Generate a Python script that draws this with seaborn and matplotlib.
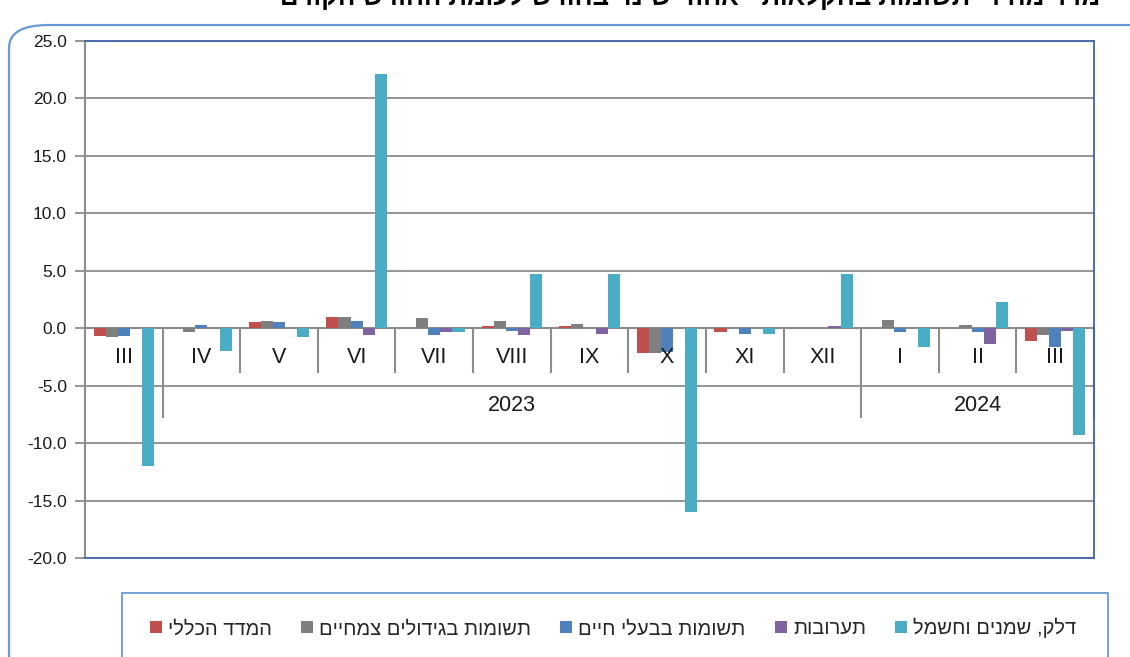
import matplotlib
matplotlib.use("Agg")
import matplotlib.pyplot as plt
import seaborn as sns
import pandas as pd
import numpy as np
from matplotlib.patches import FancyBboxPatch, Rectangle, Patch

# ---------------- data ----------------
months = ["III", "IV", "V", "VI", "VII", "VIII", "IX", "X", "XI", "XII", "I", "II", "III"]
years = ["2023", "2024"]
series_names = ["המדד הכללי", "תשומות בגידולים צמחיים", "תשומות בבעלי חיים", "תערובות", "דלק, שמנים וחשמל"]
general = [-0.7, 0.0, 0.5, 1.0, 0.0, 0.15, 0.15, -2.2, -0.3, 0.0, 0.0, 0.0, -1.1]
plants = [-0.8, -0.3, 0.6, 1.0, 0.9, 0.6, 0.4, -2.2, 0.0, 0.0, 0.7, 0.3, -0.6]
animals = [-0.7, 0.3, 0.5, 0.6, -0.6, -0.2, 0.0, -2.1, -0.5, 0.0, -0.3, -0.3, -1.6]
feed = [0.0, 0.0, 0.0, -0.6, -0.3, -0.6, -0.5, 0.0, 0.0, 0.2, 0.0, -1.4, -0.2]
fuel = [-12.0, -2.0, -0.8, 22.1, -0.3, 4.7, 4.7, -16.0, -0.5, 4.7, -1.6, 2.3, -9.3]
title = "מדד מחירי תשומות בחקלאות - אחוזי שינוי בחודש לעומת החודש הקודם"

colors = ["#C0504D", "#7F7F7F", "#4F81BD", "#8064A2", "#4BACC6"]


def vis(s):
    """Hebrew logical order -> visual order for matplotlib."""
    return s[::-1]


keys = [f"{m}_{i}" for i, m in enumerate(months)]
rows = []
for name, vals in zip(series_names, [general, plants, animals, feed, fuel]):
    for k, v in zip(keys, vals):
        rows.append({"cat": k, "series": name, "value": v})
df = pd.DataFrame(rows)

# ---------------- figure ----------------
sns.set_theme(style="white")
plt.rcParams["font.family"] = ["Liberation Sans", "DejaVu Sans"]

fig = plt.figure(figsize=(11.3, 6.57), dpi=100)
W, H = 1130, 657

# outer rounded frame (extends past right and bottom edges)
frame = FancyBboxPatch((9 / W, -100 / H), (1200 - 9) / W, (657 - 25 + 100) / H,
                       boxstyle="round,pad=0,rounding_size=0.035",
                       transform=fig.transFigure, fill=False,
                       edgecolor="#6A98D4", linewidth=1.6, clip_on=False)
fig.patches.append(frame)

# clipped title (cut off at the top in the reference too)
fig.text(690 / W, 1 - 5 / H, vis(title), ha="center", va="baseline",
         fontsize=18.5, fontweight="bold", color="black")

ax = fig.add_axes([85 / W, 1 - 558 / H, (1094 - 85) / W, (558 - 41) / H])

sns.barplot(data=df, x="cat", y="value", hue="series", order=keys,
            hue_order=series_names, palette=colors, width=0.78,
            dodge=True, gap=0, ax=ax, legend=False, saturation=1,
            linewidth=0, zorder=3)

ax.set_xlim(-0.5, len(months) - 0.5)
ax.set_ylim(-20, 25)
ax.set_yticks(np.arange(-20, 25.1, 5))
ax.set_yticklabels([f"{v:.1f}" for v in np.arange(-20, 25.1, 5)], fontsize=12.5, color="#1a1a1a")
ax.set_xticks([])
ax.set_xlabel("")
ax.set_ylabel("")
ax.yaxis.grid(True, color="#8C8C8C", linewidth=1.3, zorder=0)
ax.set_axisbelow(True)
ax.tick_params(axis="y", direction="out", length=7, width=1.3, color="#8C8C8C", pad=6, left=True)

for side in ["top", "right", "bottom"]:
    ax.spines[side].set_color("#3F64A5")
    ax.spines[side].set_linewidth(1.3)
ax.spines["left"].set_color("#8C8C8C")
ax.spines["left"].set_linewidth(1.5)

# zero axis line
ax.axhline(0, color="#8C8C8C", linewidth=1.5, zorder=2)

# category separators
long_seps = {0.5, 9.5, 12.5}
for i in range(len(months)):
    xpos = i + 0.5
    bottom = -7.8 if xpos in long_seps else -3.9
    ax.plot([xpos, xpos], [0, bottom], color="#8C8C8C", linewidth=1.5, zorder=2,
            clip_on=False, solid_capstyle="butt")

# month labels
for i, m in enumerate(months):
    ax.text(i, -2.55, m, ha="center", va="center", fontsize=15.5, color="#1a1a1a", zorder=6)

# year labels
ax.text((0.5 + 9.5) / 2, -6.7, years[0], ha="center", va="center", fontsize=15.5, color="#1a1a1a", zorder=6)
ax.text((9.5 + 12.5) / 2, -6.7, years[1], ha="center", va="center", fontsize=15.5, color="#1a1a1a", zorder=6)

# legend box
legbox = Rectangle((122 / W, 1 - 700 / H), (1108 - 122) / W, (700 - 593) / H,
                   transform=fig.transFigure, fill=False, edgecolor="#6A98D4",
                   linewidth=1.3, clip_on=False)
fig.patches.append(legbox)

handles = [Patch(facecolor=c, edgecolor="none") for c in colors]
labels = [vis(s) for s in series_names]
fig.legend(handles, labels, loc="center", bbox_to_anchor=(613 / W, 1 - 628 / H),
           ncol=5, frameon=False, fontsize=14.5, handlelength=0.6, handleheight=0.6,
           handletextpad=0.3, columnspacing=1.45, borderpad=0)

fig.savefig("out.png", dpi=100)
